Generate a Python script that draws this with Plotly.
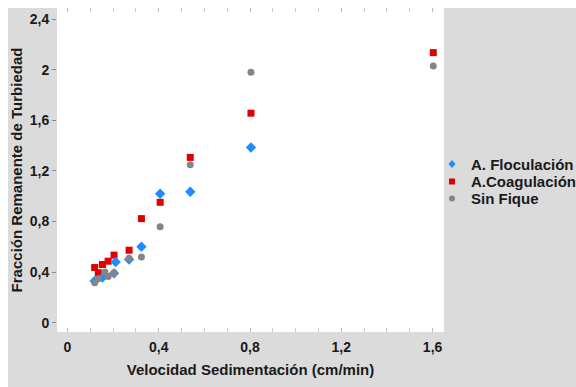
import plotly.graph_objects as go

# Data
x_floc = [0.119, 0.153, 0.204, 0.211, 0.27, 0.324, 0.406, 0.538, 0.804]
y_floc = [0.33, 0.357, 0.39, 0.48, 0.50, 0.60, 1.02, 1.036, 1.386]

x_coag = [0.119, 0.135, 0.153, 0.178, 0.204, 0.27, 0.324, 0.406, 0.538, 0.804, 1.603]
y_coag = [0.436, 0.395, 0.46, 0.486, 0.534, 0.573, 0.823, 0.952, 1.307, 1.657, 2.136]

x_sin = [0.119, 0.135, 0.164, 0.178, 0.204, 0.27, 0.324, 0.406, 0.538, 0.804, 1.603]
y_sin = [0.316, 0.347, 0.40, 0.365, 0.395, 0.51, 0.52, 0.758, 1.249, 1.98, 2.03]

x_ticks = [0, 0.4, 0.8, 1.2, 1.6]
y_ticks = [0, 0.4, 0.8, 1.2, 1.6, 2.0, 2.4]

series_names = ["A. Floculación", "A.Coagulación", "Sin Fique"]
series_colors = ["#1e8cff", "#e00000", "#858585"]

FONT = "Liberation Sans"
OFF = 8  # page offset of the figure (body margin top/left)
W, H = 568, 379
L, R, T, B = 49, 132, 0, 55
pw, ph = W - L - R, H - T - B

fig = go.Figure()
fig.add_trace(go.Scatter(x=x_coag, y=y_coag, mode="markers", name=series_names[1],
                         marker=dict(symbol="square", size=7, color=series_colors[1])))
fig.add_trace(go.Scatter(x=x_floc, y=y_floc, mode="markers", name=series_names[0],
                         marker=dict(symbol="diamond", size=8, color=series_colors[0])))
fig.add_trace(go.Scatter(x=x_sin, y=y_sin, mode="markers", name=series_names[2],
                         marker=dict(symbol="circle", size=7, color=series_colors[2])))

def px_x(p):  # page pixel -> paper coordinate
    return (p - OFF - L) / pw

def px_y(p):
    return (H - B - (p - OFF)) / ph

# manual legend (compact spacing as in the reference)
leg_y = [164, 181.5, 198.5]
leg_mx, leg_tx = 452, 469
shapes = [
    dict(type="path", xref="paper", yref="paper", xsizemode="pixel", ysizemode="pixel",
         xanchor=px_x(leg_mx), yanchor=px_y(leg_y[0]),
         path="M0,4 L3.5,0 L0,-4 L-3.5,0 Z", fillcolor=series_colors[0], line=dict(width=0)),
    dict(type="rect", xref="paper", yref="paper", xsizemode="pixel", ysizemode="pixel",
         xanchor=px_x(leg_mx), yanchor=px_y(leg_y[1]),
         x0=-3, x1=3, y0=-3, y1=3, fillcolor=series_colors[1], line=dict(width=0)),
    dict(type="circle", xref="paper", yref="paper", xsizemode="pixel", ysizemode="pixel",
         xanchor=px_x(leg_mx), yanchor=px_y(leg_y[2]),
         x0=-3, x1=3, y0=-3, y1=3, fillcolor=series_colors[2], line=dict(width=0)),
]
annotations = [
    dict(text=n, xref="paper", yref="paper", x=px_x(leg_tx), y=px_y(yy),
         xanchor="left", yanchor="middle", showarrow=False,
         font=dict(size=15, family=FONT, weight="bold", color="#1a1a1a"))
    for n, yy in zip(series_names, leg_y)
]

fig.update_layout(
    width=W, height=H,
    margin=dict(l=L, r=R, t=T, b=B, autoexpand=False),
    paper_bgcolor="#dbdbdb",
    plot_bgcolor="white",
    separators=",.",
    font=dict(family=FONT, size=14, color="#1a1a1a", weight="bold"),
    showlegend=False,
    shapes=shapes,
    annotations=annotations,
    xaxis=dict(
        range=[-0.046, 1.65], tickvals=x_ticks, showgrid=False, zeroline=False,
        ticks="inside", ticklen=4, tickcolor="#bbbbbb", mirror="ticks",
        showline=False, automargin=False, ticklabelstandoff=5,
        tickfont=dict(size=14, family=FONT, weight="bold"),
        minor=dict(dtick=0.1, ticks="inside", ticklen=4, tickcolor="#cccccc"),
        title=dict(text="Velocidad Sedimentación (cm/min)", standoff=10,
                   font=dict(size=15, family=FONT, weight="bold")),
    ),
    yaxis=dict(
        range=[-0.074, 2.489], tickvals=y_ticks, showgrid=False, zeroline=False,
        ticks="outside", ticklen=4, tickcolor="#888888",
        showline=False, automargin=False,
        tickfont=dict(size=14, family=FONT, weight="bold"),
        title=dict(text="Fracción Remanente de Turbiedad", standoff=8,
                   font=dict(size=15, family=FONT, weight="bold")),
    ),
)

fig.write_html(
    "out.html",
    post_script="document.body.style.margin='8px 0 0 8px';"
                "document.body.style.overflow='hidden';"
                "document.documentElement.style.overflow='hidden';",
)
